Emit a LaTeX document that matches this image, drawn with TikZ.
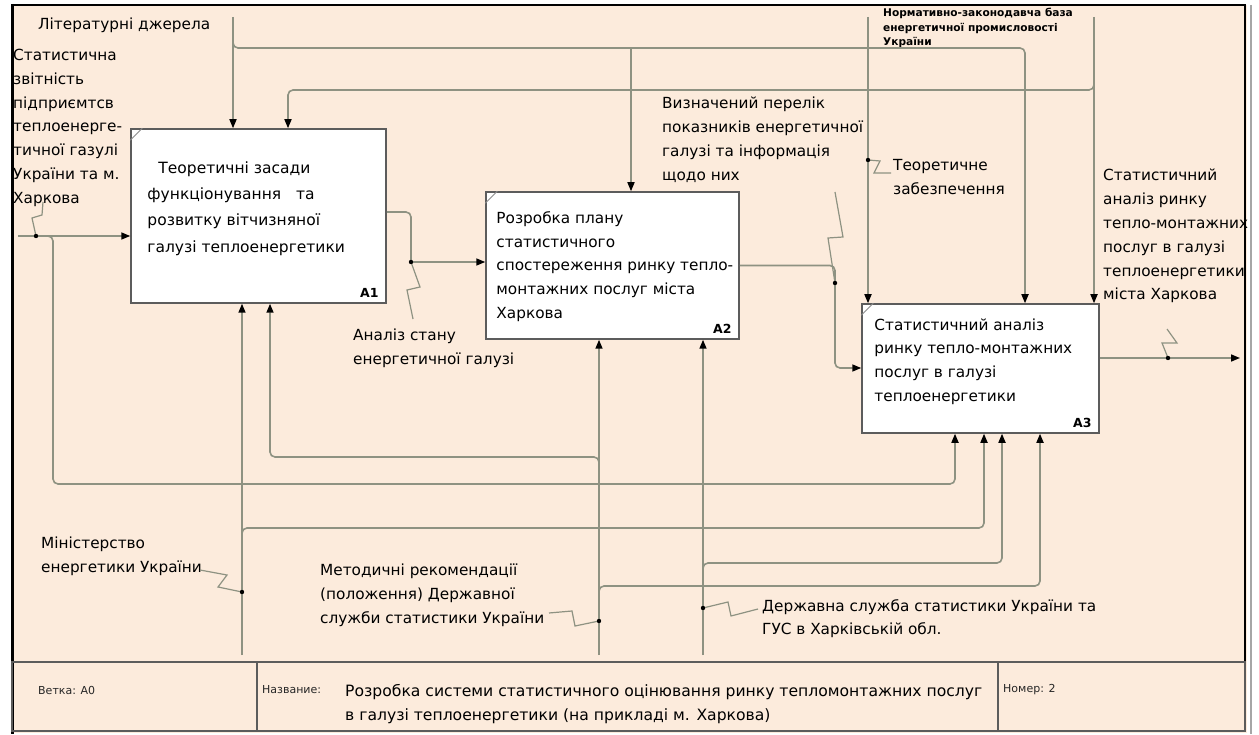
\documentclass[tikz,border=0pt]{standalone}
\usepackage{fontspec}
\setmainfont{DejaVu Sans}
\usetikzlibrary{arrows.meta}
\definecolor{idefpaper}{HTML}{FCEBDC}
\definecolor{idefline}{HTML}{8E9282}
\definecolor{idefedge}{HTML}{5C5C5C}
\newcommand\lblfont{\fontsize{15.3}{23.8}\selectfont}
\newcommand\normfont{\bfseries\fontsize{10.6}{14.5}\selectfont}
\newcommand\footfont{\fontsize{11}{13}\selectfont}

\begin{document}
\begin{tikzpicture}[
  x=1pt, y=-1pt,
  >={Triangle[color=black,length=9pt,width=7pt]},
  act/.style={draw=idefedge, line width=1.5pt, fill=white, inner sep=0pt},
  acttext/.style={font=\lblfont, align=left, anchor=north west, inner sep=0pt},
  actnum/.style={font=\bfseries\fontsize{12.5}{12.5}\selectfont, anchor=base east, inner sep=0pt},
  lbl/.style={font=\lblfont, align=left, anchor=north west, inner sep=0pt},
  foot/.style={font=\footfont, text=black!85, anchor=west, inner sep=0pt},
  flow/.style={draw=idefline, line width=1.6pt, rounded corners=5pt},
  squig/.style={draw=idefline, line width=1.2pt}
]
  \useasboundingbox (0,0) rectangle (1259,735);
  \fill[white] (0,0) rectangle (1259,735);
  \fill[idefpaper] (12,5) rectangle (1247,733);

  % frame and footer
  \draw[black, line width=3pt] (12,4) -- (12,734);
  \draw[black, line width=2pt] (11,5) -- (1246,5);
  \draw[black, line width=2pt] (1245,5) -- (1245,662);
  \draw[black!35, line width=2pt] (1251,5) -- (1251,734);
  \draw[idefedge, line width=1.2pt] (12,662) rectangle (1245,731);
  \draw[idefedge, line width=1.2pt] (257,662) -- (257,731);
  \draw[idefedge, line width=1.2pt] (998,662) -- (998,731);

  % activity boxes
  \node[act, minimum width=255pt, minimum height=174pt] (a1) at (258.5,216) {};
  \node[act, minimum width=253pt, minimum height=147pt] (a2) at (612.5,265.5) {};
  \node[act, minimum width=237pt, minimum height=129pt] (a3) at (980.5,368.5) {};
  \foreach \b in {a1,a2,a3}
    \draw[idefedge!70, line width=1pt] ([yshift=-12pt]\b.north west) -- ([xshift=12pt]\b.north west);

  \node[acttext, font=\fontsize{15.5}{26.3}\selectfont] (a1txt) at ([xshift=17pt,yshift=-33pt]a1.north west)
    {\hspace*{11pt}Теоретичні засади\\функціонування\ \ \ та\\розвитку вітчизняної\\галузі теплоенергетики};
  \node[acttext] (a2txt) at ([xshift=11pt,yshift=-20pt]a2.north west)
    {Розробка плану\\статистичного\\спостереження ринку тепло-\\монтажних послуг міста\\Харкова};
  \node[acttext] (a3txt) at ([xshift=13pt,yshift=-15pt]a3.north west)
    {Статистичний аналіз\\ринку тепло-монтажних\\послуг в галузі\\теплоенергетики};
  \node[actnum] (a1num) at ([xshift=-8pt,yshift=6pt]a1.south east) {A1};
  \node[actnum] (a2num) at ([xshift=-8pt,yshift=6pt]a2.south east) {A2};
  \node[actnum] (a3num) at ([xshift=-8pt,yshift=6pt]a3.south east) {A3};

  % labels
  \node[lbl] (littxt) at (38,18) {Літературні джерела};
  \node[lbl] (stattxt) at (13,49) {Статистична\\звітність\\підприємтсв\\теплоенерге-\\тичної газулі\\України та м.\\Харкова};
  \node[lbl, font=\normfont] (normtxt) at (883,8) {Нормативно-законодавча база\\енергетичної промисловості\\України};
  \node[lbl] (pertxt) at (662,97) {Визначений перелік\\показників енергетичної\\галузі та інформація\\щодо них};
  \node[lbl] (teortxt) at (893,159) {Теоретичне\\забезпечення};
  \node[lbl] (restxt) at (1103,169) {Статистичний\\аналіз ринку\\тепло-монтажних\\послуг в галузі\\теплоенергетики\\міста Харкова};
  \node[lbl] (anatxt) at (353,329) {Аналіз стану\\енергетичної галузі};
  \node[lbl] (mintxt) at (41,537) {Міністерство\\енергетики України};
  \node[lbl] (mettxt) at (320,564) {Методичні рекомендації\\(положення) Державної\\служби статистики України};
  \node[lbl] (dsstxt) at (762,599) {Державна служба статистики України та\\ГУС в Харківській обл.};

  % junction points
  \coordinate (statj) at (36,236);
  \coordinate (anaj) at (411,262);
  \coordinate (perj) at (835,283);
  \coordinate (resj) at (1168,358);
  \coordinate (teorj) at (868,160);
  \coordinate (minj) at (242,592);
  \coordinate (metj) at (599,621);
  \coordinate (dssj) at (703,608);

  % inputs and outputs
  \coordinate (statin) at (18,236);
  \draw[flow,->] (statin) -- (statin -| a1.west);
  \draw[squig] (43,202) -- (42,215) -- (32,218) -- (statj);
  \coordinate (statbr) at (53,236);
  \coordinate (m3a) at (955,484);
  \draw[flow,->] (statj) -- (statbr) -- (statbr |- m3a) -- (m3a) -- (m3a |- a3.south);

  \draw[flow] ([yshift=4pt]a1.east) -| (anaj);
  \draw[flow,->] (anaj) -- (anaj -| a2.west);
  \draw[squig] (anaj) -- (420,287) -- (407,290) -- (413,319);

  \coordinate (a3in) at (835,368);
  \draw[flow,->] (a2.east) -| (a3in) -- (a3in -| a3.west);
  \draw[squig] (perj) -- (828,238) -- (843,237) -- (835,192);

  \coordinate (resend) at (1240,358);
  \draw[flow,->] (resend -| a3.east) -- (resend);
  \draw[squig] (resj) -- (1162,343) -- (1177,343) -- (1167,329);

  % controls
  \coordinate (litsrc) at (233,17);
  \coordinate (litbr) at (233,48);
  \coordinate (litA2) at (631,48);
  \coordinate (litA3) at (1025,48);
  \draw[flow,->] (litsrc) -- (litsrc |- a1.north);
  \draw[flow,->] ([yshift=10pt]litbr) -- (litbr) -- (litA3) -- (litA3 |- a3.north);
  \draw[flow,->] (litA2) -- (litA2 |- a2.north);

  \coordinate (normsrc) at (1094,17);
  \coordinate (normbr) at (1094,90);
  \coordinate (normA1) at (288,90);
  \draw[flow,->] (normsrc) -- (normsrc |- a3.north);
  \draw[flow,->] ([yshift=10pt]normbr) -- (normbr) -- (normA1) -- (normA1 |- a1.north);

  \coordinate (teorsrc) at (868,17);
  \draw[flow,->] (teorsrc) -- (teorsrc |- a3.north);
  \draw[squig] (teorj) -- (880,161) -- (874,173) -- (891,173);

  % mechanisms
  \coordinate (minsrc) at (242,655);
  \coordinate (minbr) at (242,528);
  \coordinate (m3b) at (984,528);
  \draw[flow,->] (minsrc) -- (minsrc |- a1.south);
  \draw[flow,->] ([yshift=-11pt]minbr) -- (minbr) -- (m3b) -- (m3b |- a3.south);
  \draw[squig] (200,570) -- (227,575) -- (218,587) -- (minj);

  \coordinate (metsrc) at (599,655);
  \coordinate (metbr) at (599,457);
  \coordinate (metA1) at (270,457);
  \coordinate (metbr2) at (599,586);
  \coordinate (m3d) at (1040,586);
  \draw[flow,->] (metsrc) -- (metsrc |- a2.south);
  \draw[flow,->] ([yshift=-11pt]metbr) -- (metbr) -- (metA1) -- (metA1 |- a1.south);
  \draw[flow,->] ([yshift=-11pt]metbr2) -- (metbr2) -- (m3d) -- (m3d |- a3.south);
  \draw[squig] (549,613) -- (572,611) -- (575,626) -- (metj);

  \coordinate (dsssrc) at (703,655);
  \coordinate (dssbr) at (703,563);
  \coordinate (m3c) at (1002,563);
  \draw[flow,->] (dsssrc) -- (dsssrc |- a2.south);
  \draw[flow,->] ([yshift=-11pt]dssbr) -- (dssbr) -- (m3c) -- (m3c |- a3.south);
  \draw[squig] (dssj) -- (728,602) -- (731,616) -- (758,609);

  \foreach \j in {statj,anaj,perj,resj,teorj,minj,metj,dssj}
    \fill (\j) circle (2.2pt);

  % footer
  \node[foot] (branch) at (38,690) {Ветка: А0};
  \node[foot] (titlekey) at (262,690) {Название:};
  \node[lbl, font=\fontsize{15.6}{24}\selectfont] (title) at (345,684) {Розробка системи статистичного оцінювання ринку тепломонтажних послуг\\в галузі теплоенергетики (на прикладі м. Харкова)};
  \node[foot] (number) at (1003,690) {Номер: 2};
\end{tikzpicture}
\end{document}
